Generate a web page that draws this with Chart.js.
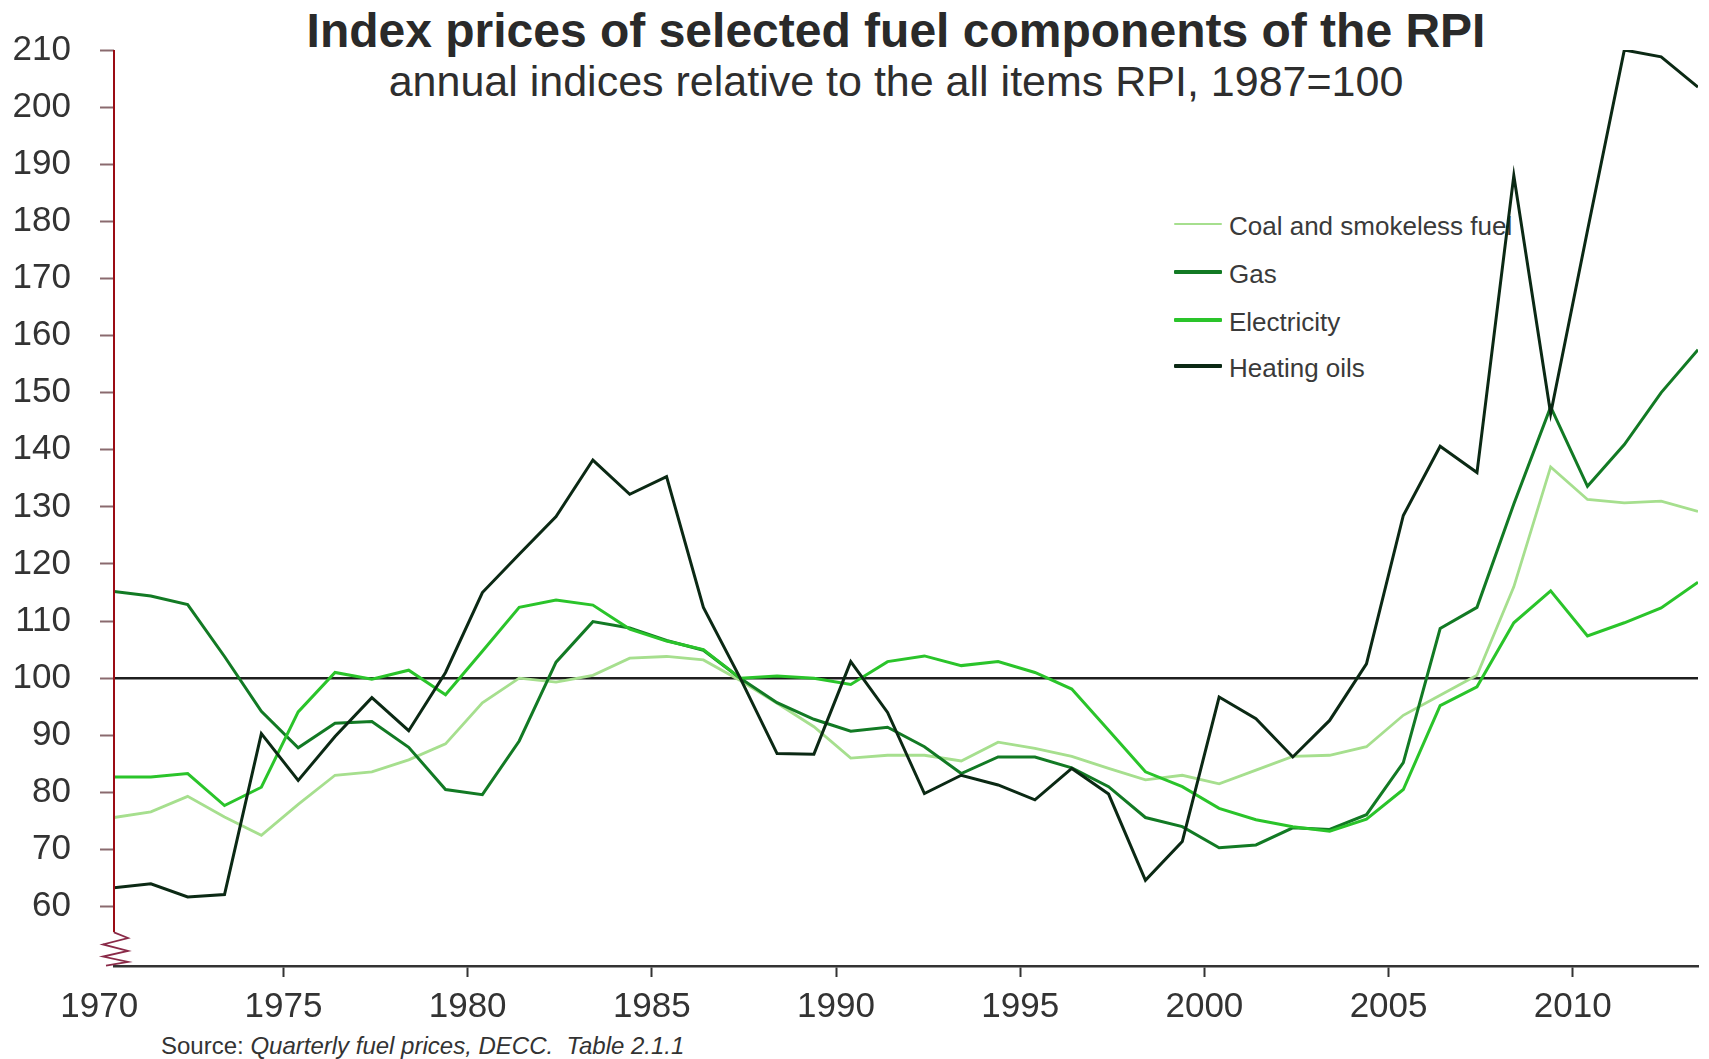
<!DOCTYPE html>
<html>
<head>
<meta charset="utf-8">
<script src="https://cdn.jsdelivr.net/npm/chart.js@4.4.1/dist/chart.umd.min.js"></script>
<style>
html,body{margin:0;padding:0;background:#ffffff;}
#wrap{position:relative;width:1709px;height:1059px;overflow:hidden;font-family:"Liberation Sans",Arial,sans-serif;color:#333;}
#c{position:absolute;left:0;top:0;z-index:2;}
.t{position:absolute;white-space:pre;line-height:1;}
#title{left:896px;top:7px;transform:translateX(-50%);font-weight:bold;font-size:48px;color:#2a2a2a;}
#subtitle{left:896px;top:60px;transform:translateX(-50%);font-size:43px;color:#2e2e2e;}
#source{left:161px;top:1034px;font-size:24px;color:#333;}
#legend{position:absolute;left:0;top:0;z-index:1;}
.lg-line{position:absolute;left:1174px;width:48px;border-radius:1px;}
.lg-text{position:absolute;left:1229px;font-size:26px;color:#3a3a3a;white-space:pre;line-height:1;}
</style>
</head>
<body>
<div id="wrap">
  <div class="t" id="title">Index prices of selected fuel components of the RPI</div>
  <div class="t" id="subtitle">annual indices relative to the all items RPI, 1987=100</div>
  <div class="t" id="source">Source: <i>Quarterly fuel prices, DECC.  Table 2.1.1</i></div>
  <div id="legend"></div>
  <canvas id="c" width="1709" height="1059"></canvas>
</div>
<script>
// ---------------- data ----------------
const years = [1970,1971,1972,1973,1974,1975,1976,1977,1978,1979,
               1980,1981,1982,1983,1984,1985,1986,1987,1988,1989,
               1990,1991,1992,1993,1994,1995,1996,1997,1998,1999,
               2000,2001,2002,2003,2004,2005,2006,2007,2008,2009,
               2010,2011,2012,2013];

const coal = [75.6,76.6,79.3,75.7,72.5,77.9,83.0,83.6,85.7,88.5,
              95.7,100.0,99.3,100.5,103.5,103.8,103.2,99.6,95.6,91.5,
              86.0,86.5,86.5,85.5,88.8,87.7,86.3,84.2,82.2,83.0,
              81.5,83.9,86.3,86.5,88.0,93.5,97.0,100.5,116.0,137.0,
              131.3,130.7,131.0,129.2];

const gas = [115.2,114.4,112.9,103.8,94.2,87.8,92.1,92.4,87.9,80.5,
             79.6,89.0,102.8,109.9,108.8,106.6,104.9,100.0,95.7,92.8,
             90.7,91.4,88.0,83.3,86.2,86.2,84.3,81.0,75.6,74.0,
             70.3,70.8,73.8,73.5,76.1,85.2,108.7,112.4,130.5,147.5,
             133.6,140.9,150.0,157.5];

const electricity = [82.7,82.7,83.3,77.7,80.9,94.1,101.0,99.8,101.4,97.1,
                     104.7,112.4,113.7,112.8,108.6,106.5,105.0,100.0,100.4,100.0,
                     98.9,102.9,103.9,102.2,102.9,101.0,98.1,90.9,83.6,81.0,
                     77.2,75.2,74.0,73.2,75.3,80.5,95.2,98.5,109.7,115.3,
                     107.4,109.7,112.3,116.8];

const heatingOils = [63.3,64.0,61.7,62.1,90.3,82.1,89.8,96.6,90.8,101.0,
                     115.0,121.7,128.3,138.2,132.2,135.3,112.4,100.0,86.8,86.7,
                     102.9,94.0,79.8,83.0,81.3,78.7,84.2,79.7,64.6,71.4,
                     96.7,92.9,86.2,92.6,102.5,128.5,140.6,136.0,188.0,146.3,
                     178.4,210.0,208.8,203.5];

const seriesNames = ['Coal and smokeless fuel','Gas','Electricity','Heating oils'];
const xTickYears = [1970,1975,1980,1985,1990,1995,2000,2005,2010];
const yTickValues = [60,70,80,90,100,110,120,130,140,150,160,170,180,190,200,210];
const referenceValue = 100;

// ---------------- styles ----------------
const seriesColors = ['#a6df8e','#127a24','#2ac42a','#0b2914'];
const seriesWidths = [2.8,3,3,3];
const legendWidths = [2.5,4,4,4];
const labelShift = -0.4;   // year labels sit slightly left of the mid-year points
const FONT = '"Liberation Sans", Arial, sans-serif';

// legend (html, placed behind the transparent canvas)
const legendRows = [224,272,320,366];
const legendEl = document.getElementById('legend');
seriesNames.forEach((name,i)=>{
  const ln = document.createElement('div');
  ln.className='lg-line';
  ln.style.top = (legendRows[i]-legendWidths[i]/2)+'px';
  ln.style.height = legendWidths[i]+'px';
  ln.style.background = seriesColors[i];
  legendEl.appendChild(ln);
  const tx = document.createElement('div');
  tx.className='lg-text';
  tx.style.top = (legendRows[i]+11-22)+'px';
  tx.textContent = name;
  legendEl.appendChild(tx);
});

const allSeries = [coal, gas, electricity, heatingOils];
const datasets = allSeries.map((vals,i)=>({
  label: seriesNames[i],
  data: years.map((yr,k)=>({x:yr, y:vals[k]})),
  borderColor: seriesColors[i],
  backgroundColor: seriesColors[i],
  borderWidth: seriesWidths[i],
  pointRadius: 0,
  tension: 0,
  fill: false,
  order: 3-i
}));

const axisDecor = {
  id:'axisDecor',
  beforeDatasetsDraw(chart){
    const {ctx, chartArea, scales} = chart;
    const ys = scales.y;
    // reference line at 100
    ctx.save();
    ctx.strokeStyle = '#1e1e1e';
    ctx.lineWidth = 2.5;
    const y100 = ys.getPixelForValue(referenceValue);
    ctx.beginPath();
    ctx.moveTo(chartArea.left, y100);
    ctx.lineTo(chartArea.right, y100);
    ctx.stroke();
    ctx.restore();
  },
  afterDatasetsDraw(chart){
    const {ctx, chartArea, scales} = chart;
    const ys = scales.y;
    const L = chartArea.left;
    const top = ys.getPixelForValue(210);
    const breakTop = ys.getPixelForValue(55.5);
    const bottom = chartArea.bottom;
    ctx.save();
    ctx.strokeStyle = '#9a0c14';
    ctx.lineWidth = 2;
    ctx.beginPath();
    ctx.moveTo(L, top);
    ctx.lineTo(L, breakTop);
    ctx.stroke();
    // axis break zigzag
    const h = bottom - breakTop;
    ctx.strokeStyle = '#8a2a48';
    ctx.lineWidth = 1.8;
    ctx.beginPath();
    ctx.moveTo(L, breakTop);
    ctx.lineTo(L+14, breakTop + h*0.17);
    ctx.lineTo(L-11, breakTop + h*0.36);
    ctx.lineTo(L+14, breakTop + h*0.55);
    ctx.lineTo(L-11, breakTop + h*0.72);
    ctx.lineTo(L+14, breakTop + h*0.88);
    ctx.lineTo(L-8, breakTop + h*0.99);
    ctx.stroke();
    ctx.restore();
  }
};

new Chart(document.getElementById('c'), {
  type: 'line',
  data: { datasets },
  plugins: [axisDecor],
  options: {
    responsive: false,
    animation: false,
    devicePixelRatio: 1,
    layout: { padding: { left: 14, right: 11, top: 46, bottom: 0 } },
    plugins: { legend: { display: false }, tooltip: { enabled: false }, title:{display:false} },
    scales: {
      x: {
        type: 'linear',
        min: years[0],
        max: years[years.length-1],
        bounds: 'data',
        afterBuildTicks: s => { s.ticks = xTickYears.map(v => ({ value: v + labelShift })); },
        afterFit: s => { s.height = 93; },
        ticks: {
          autoSkip: false,
          maxRotation: 0,
          padding: 9,
          color: '#333',
          font: { family: FONT, size: 35 },
          callback: (v, i) => String(xTickYears[i])
        },
        grid: {
          drawOnChartArea: false,
          drawTicks: true,
          tickLength: 11,
          tickWidth: 2,
          color: ctx => (ctx.tick && ctx.tick.value < years[0]) ? 'rgba(0,0,0,0)' : '#333',
          tickColor: ctx => (ctx.tick && ctx.tick.value < years[0]) ? 'rgba(0,0,0,0)' : '#333'
        },
        border: { display: true, color: '#333', width: 2.5 }
      },
      y: {
        type: 'linear',
        min: 49.6,
        max: 210,
        bounds: 'data',
        afterBuildTicks: s => { s.ticks = yTickValues.map(v => ({ value: v })); },
        afterFit: s => { s.width = 100; },
        ticks: {
          padding: 29,
          color: '#333',
          font: { family: FONT, size: 35 },
          callback: v => String(v)
        },
        grid: {
          drawOnChartArea: false,
          drawTicks: true,
          tickLength: 14,
          tickWidth: 2,
          color: '#8a6a6e',
          tickColor: '#8a6a6e'
        },
        border: { display: false }
      }
    }
  }
});
</script>
</body>
</html>
